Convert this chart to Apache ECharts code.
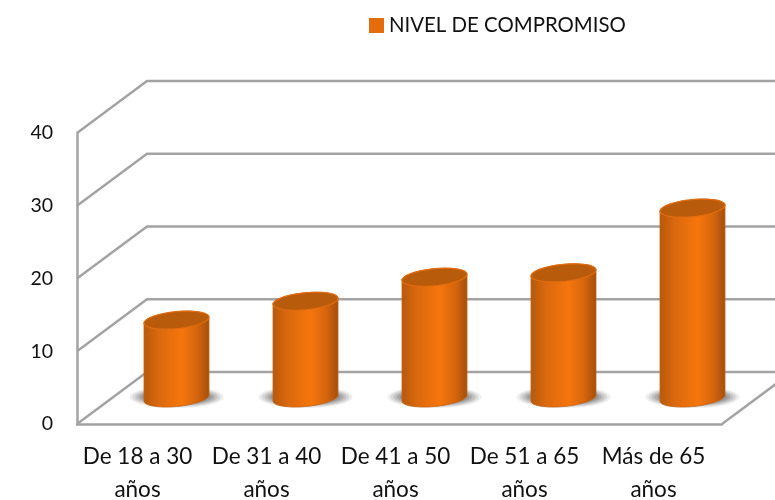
<!DOCTYPE html>
<html>
<head>
<meta charset="utf-8">
<script src="https://cdn.jsdelivr.net/npm/echarts@6/dist/echarts.min.js"></script>
<style>html,body{margin:0;padding:0;background:#fff}#c{width:775px;height:500px}</style>
</head>
<body>
<div id="c"></div>
<script>
var categories = ['De 18 a 30\naños', 'De 31 a 40\naños', 'De 41 a 50\naños', 'De 51 a 65\naños', 'Más de 65\naños'];
var seriesName = 'NIVEL DE COMPROMISO';
var values = [10.7, 13.3, 16.6, 17.2, 26.1];
var wallTicks = [0, 10, 20, 30, 40];

var FONT = 'Lato, sans-serif';
var GREY = '#a3a3a3';
var DX = 70, DY = -52;          // chart depth offset of the back wall
var MX = 35, MY = -26;          // bars stand at mid depth
var RX = 32.5, RY = 8.5, TILT = 3;

function ellipsePts(cx, cy, from, to, n) {
  var pts = [];
  for (var i = 0; i <= n; i++) {
    var t = from + (to - from) * i / n;
    pts.push([cx + RX * Math.cos(t), cy + RY * Math.sin(t) - TILT * Math.cos(t)]);
  }
  return pts;
}

var chart = echarts.init(document.getElementById('c'), null, {renderer: 'canvas'});
chart.setOption({
  animation: false,
  backgroundColor: '#fff',
  legend: {
    data: [{name: seriesName, icon: 'rect'}],
    left: 364, top: 10.5, itemWidth: 15, itemHeight: 15, itemGap: 6,
    textStyle: {fontFamily: FONT, fontSize: 20.4, color: '#111'}
  },
  grid: {left: 77, top: 133, width: 645, height: 291, outerBoundsMode: 'none'},
  xAxis: {
    type: 'category', data: categories,
    axisLine: {lineStyle: {color: GREY, width: 2.5}},
    axisTick: {show: false},
    axisLabel: {fontFamily: FONT, fontSize: 22.5, color: '#111', lineHeight: 33, margin: 16, interval: 0, padding: [0, 8, 0, 0]}
  },
  yAxis: {
    type: 'value', min: 0, max: 40, interval: 10,
    axisLine: {show: true, lineStyle: {color: GREY, width: 2.5}},
    axisTick: {show: false},
    splitLine: {show: false},
    axisLabel: {fontFamily: FONT, fontSize: 19.5, color: '#111', margin: 24, padding: [3, 0, 0, 0]}
  },
  series: [
    {
      name: 'walls', type: 'custom', z: 1, silent: true, clip: false,
      data: wallTicks.map(function (v) { return [0, v]; }),
      encode: {x: 0, y: 1},
      renderItem: function (params, api) {
        var c = api.coord([0, api.value(1)]);
        var band = api.size([1, 0])[0];
        var x0 = c[0] - band / 2, y0 = c[1];
        var x1 = x0 + band * categories.length;
        var style = {stroke: GREY, lineWidth: 2.5, fill: null};
        var kids = [{
          type: 'polyline',
          shape: {points: [[x0, y0], [x0 + DX, y0 + DY], [x1 + DX, y0 + DY]]},
          style: style
        }];
        if (api.value(1) === 0) {
          kids.push({type: 'line', shape: {x1: x1, y1: y0, x2: x1 + DX, y2: y0 + DY}, style: style});
        }
        return {type: 'group', children: kids};
      }
    },
    {
      name: seriesName, type: 'custom', z: 3, clip: false,
      itemStyle: {color: '#E46C0A'},
      data: values.map(function (v, i) { return [i, v]; }),
      encode: {x: 0, y: 1},
      renderItem: function (params, api) {
        var i = api.value(0);
        var top = api.coord([i, api.value(1)]);
        var base = api.coord([i, 0]);
        var cx = top[0] + MX, ty = top[1] + MY, by = base[1] + MY;
        var body = ellipsePts(cx, by, 0, Math.PI, 30).concat(ellipsePts(cx, ty, Math.PI, 2 * Math.PI, 30));
        var grad = new echarts.graphic.LinearGradient(0, 0, 1, 0, [
          {offset: 0, color: '#b5590c'},
          {offset: 0.22, color: '#d9680e'},
          {offset: 0.58, color: '#f6760c'},
          {offset: 0.82, color: '#d4650d'},
          {offset: 1, color: '#a24f0b'}
        ]);
        var kids = [];
        [[47, 11, 0.10], [44, 10, 0.14], [41, 9, 0.18], [38, 8, 0.22], [35, 7, 0.26]].forEach(function (s) {
          kids.push({type: 'ellipse', shape: {cx: cx, cy: by - 1, rx: s[0], ry: s[1]},
            style: {fill: 'rgba(90,90,90,' + s[2] + ')'}});
        });
        kids.push({type: 'polygon', shape: {points: body}, style: {fill: grad, stroke: '#c8620f', lineWidth: 0.8}});
        kids.push({type: 'polygon', shape: {points: ellipsePts(cx, ty, 0, 2 * Math.PI, 60)},
          style: {fill: '#b85b0b', stroke: '#e26c10', lineWidth: 1.2}});
        return {type: 'group', children: kids};
      }
    }
  ]
});
</script>
</body>
</html>
